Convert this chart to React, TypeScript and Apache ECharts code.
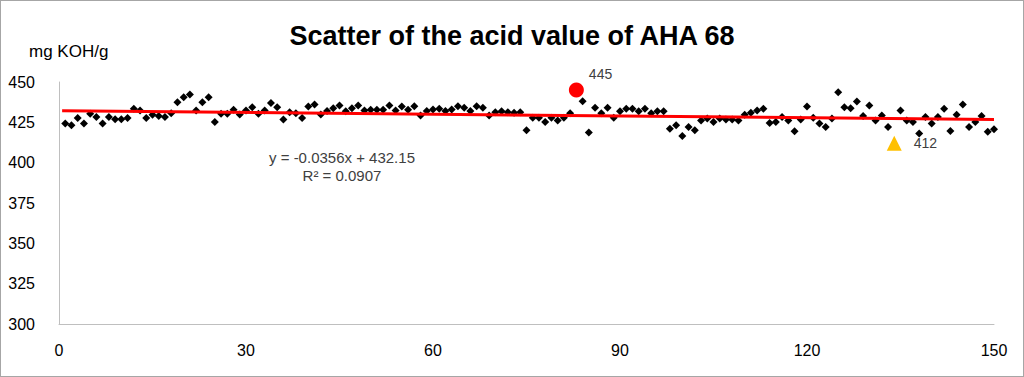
import React, { useEffect, useRef } from "react";
import * as echarts from "echarts";

const sampleNumbers: number[] = Array.from({ length: 150 }, (_, i) => i + 1);
const acidValues: number[] = [
  424.2, 423.2, 427.7, 424.2, 430.3, 428.3, 424.2, 428.3, 426.9, 426.9,
  427.7, 433.4, 432.4, 427.7, 429.7, 428.9, 428.3, 430.7, 437.4, 440.5,
  442.2, 432.4, 437.4, 440.5, 425.2, 430.3, 430.3, 432.8, 429.9, 432.4,
  434.4, 430.3, 432.4, 437.0, 434.4, 426.7, 431.3, 430.7, 427.7, 434.8,
  436.0, 429.9, 432.0, 433.8, 435.4, 431.8, 433.8, 435.4, 432.4, 432.8,
  432.8, 432.8, 435.4, 432.4, 434.8, 432.8, 435.0, 429.3, 432.0, 433.0,
  433.4, 432.0, 433.0, 435.0, 434.0, 432.0, 435.0, 434.0, 429.3, 431.3,
  431.8, 431.3, 430.9, 431.3, 420.1, 427.9, 427.9, 425.2, 427.9, 426.2,
  427.9, 430.7, 445.0, 438.1, 418.7, 434.0, 430.7, 434.0, 427.9, 431.8,
  433.4, 433.4, 431.8, 433.4, 430.7, 431.8, 431.8, 421.1, 423.2, 416.6,
  422.1, 420.1, 426.2, 427.3, 425.2, 427.3, 426.7, 426.7, 426.2, 429.7,
  431.0, 432.4, 433.4, 424.6, 425.2, 428.3, 426.2, 419.5, 426.7, 434.8,
  427.9, 424.2, 422.1, 427.3, 443.6, 434.4, 433.8, 437.9, 428.9, 435.4,
  426.2, 429.3, 422.1, 412.0, 432.4, 426.2, 425.2, 418.1, 428.3, 424.2,
  428.3, 433.4, 419.7, 429.7, 436.0, 422.1, 425.2, 428.9, 419.1, 420.7,
];
const maxSample = 83;
const minSample = 134;
const trendSlope = -0.0356;
const trendIntercept = 432.15;
const xTicks = [0, 30, 60, 90, 120, 150];
const yRange = [300, 450];

const FONT = "Liberation Sans";

export default function App() {
  const ref = useRef<HTMLDivElement>(null);
  useEffect(() => {
    if (!ref.current) return;
    const chart = echarts.init(ref.current, undefined, { renderer: "svg" });
    const regular = sampleNumbers
      .map((x, i) => [x, acidValues[i]])
      .filter((p) => p[0] !== maxSample && p[0] !== minSample);
    const maxPt = [maxSample, acidValues[maxSample - 1]];
    const minPt = [minSample, acidValues[minSample - 1]];
    const xMin = xTicks[0];
    const xMax = xTicks[xTicks.length - 1];
    const trend = [
      [xMin + 0.5, trendIntercept + trendSlope * (xMin + 0.5)],
      [xMax, trendIntercept + trendSlope * xMax],
    ];
    chart.setOption({
      animation: false,
      textStyle: { fontFamily: FONT },
      title: {
        text: "Scatter of the acid value of AHA 68",
        left: "center",
        top: 16,
        textStyle: { fontFamily: FONT, fontSize: 27, fontWeight: "bold", color: "#000" },
      },
      grid: { left: 58, right: 29, top: 81, bottom: 52, containLabel: false },
      xAxis: {
        type: "value",
        min: xMin,
        max: xMax,
        interval: 30,
        axisLine: { show: true, lineStyle: { color: "#bfbfbf", width: 1 } },
        axisTick: { show: false },
        splitLine: { show: false },
        axisLabel: { color: "#000", fontSize: 16, margin: 18, fontFamily: FONT },
      },
      yAxis: {
        type: "value",
        min: yRange[0],
        max: yRange[1],
        interval: 25,
        name: "mg KOH/g",
        nameLocation: "end",
        nameGap: 22,
        nameTextStyle: { color: "#000", fontSize: 17, align: "left", padding: [0, 0, 0, -30], fontFamily: FONT },
        axisLine: { show: true, lineStyle: { color: "#bfbfbf", width: 1 } },
        axisTick: { show: false },
        splitLine: { show: false },
        axisLabel: { color: "#000", fontSize: 16, margin: 24, fontFamily: FONT },
      },
      series: [
        {
          type: "scatter",
          data: regular,
          symbol: "diamond",
          symbolSize: 8,
          itemStyle: { color: "#000", opacity: 1 },
          z: 2,
        },
        {
          type: "line",
          data: trend,
          showSymbol: false,
          symbol: "none",
          lineStyle: { color: "#ff0000", width: 3 },
          z: 3,
        },
        {
          type: "scatter",
          data: [maxPt],
          symbol: "circle",
          symbolSize: 15,
          itemStyle: { color: "#ff0000", opacity: 1 },
          label: {
            show: true,
            position: "right",
            offset: [0, -16],
            formatter: (p: any) => String(Math.round(p.value[1])),
            color: "#404040",
            fontSize: 14,
            fontFamily: FONT,
          },
          z: 4,
        },
        {
          type: "scatter",
          data: [minPt],
          symbol: "triangle",
          symbolSize: 15,
          itemStyle: { color: "#ffc000", opacity: 1 },
          label: {
            show: true,
            position: "right",
            offset: [7, 0],
            formatter: (p: any) => String(Math.round(p.value[1])),
            color: "#404040",
            fontSize: 14,
            fontFamily: FONT,
          },
          z: 4,
        },
      ],
      graphic: [
        {
          type: "text",
          x: 341,
          y: 147,
          style: {
            text: "y = -0.0356x + 432.15\nR² = 0.0907",
            fill: "#404040",
            font: `15px "${FONT}"`,
            align: "center",
            verticalAlign: "top",
            lineHeight: 18,
          },
        },
      ],
    });
    return () => chart.dispose();
  }, []);
  return (
    <div
      style={{
        position: "fixed",
        left: 0,
        top: 0,
        width: 1024,
        height: 377,
        boxSizing: "border-box",
        border: "1px solid #a6a6a6",
        background: "#fff",
      }}
    >
      <div ref={ref} style={{ width: 1022, height: 375 }} />
    </div>
  );
}
